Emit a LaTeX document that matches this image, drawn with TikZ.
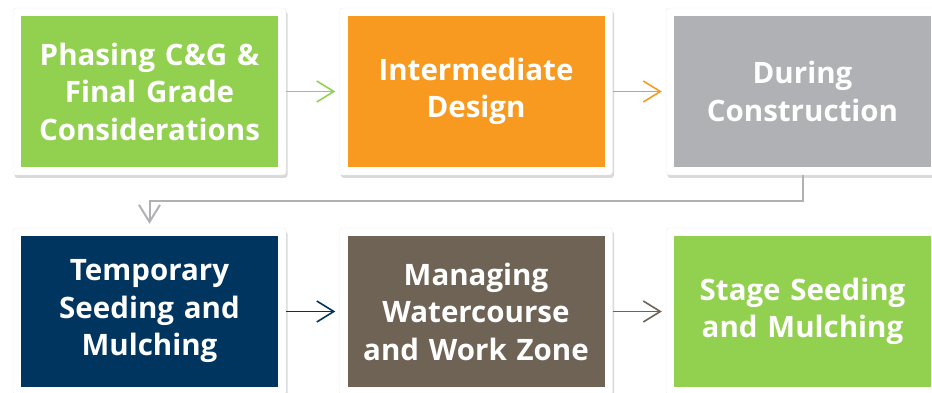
\documentclass[tikz,border=0pt]{standalone}
\usepackage{fontspec}
\setmainfont{Open Sans}
\usetikzlibrary{shadows,arrows.meta}
\definecolor{grassgreen}{HTML}{92D050}
\definecolor{amber}{HTML}{F89A1F}
\definecolor{steel}{HTML}{B0B1B5}
\definecolor{navy}{HTML}{003560}
\definecolor{soil}{HTML}{6E6355}
\tikzstyle{card} = [rectangle, fill=white, draw=black!7, rounded corners=3pt,
    minimum width=273pt, minimum height=167pt, inner sep=0pt,
    drop shadow={opacity=0.3, shadow xshift=1.5pt, shadow yshift=-3pt}]
\tikzstyle{tile} = [rectangle, minimum width=257pt, minimum height=151pt,
    text width=250pt, align=center, text=white, inner sep=0pt,
    font=\bfseries\fontsize{29.5}{37.5}\selectfont]
\tikzstyle{line} = [draw, line width=1.6pt, shorten >=4pt,
    -{Straight Barb[length=17pt,width=21pt]}]

\begin{document}
\begin{tikzpicture}[node distance = 326.5pt, auto]
    \useasboundingbox (0,0) rectangle (932pt,-393pt);
    % Place nodes
    \node [card] (C1) at (149.5pt,-91.5pt) {};
    \node [card, right of=C1] (C2) {};
    \node [card, right of=C2] (C3) {};
    \node [card, below of=C1, node distance=220pt] (C4) {};
    \node [card, right of=C4] (C5) {};
    \node [card, right of=C5] (C6) {};

    \node [tile, fill=grassgreen] (phasing) at (C1) {Phasing C\&G \&\\Final Grade\\Considerations};
    \node [tile, fill=amber] (design) at (C2) {Intermediate\\Design};
    \node [tile, fill=steel] (during) at (C3) {During\\Construction};
    \node [tile, fill=navy] (tempseed) at (C4) {Temporary\\Seeding and\\Mulching};
    \node [tile, fill=soil] (watercourse) at (C5) {Managing\\Watercourse\\and Work Zone};
    \node [tile, fill=grassgreen] (stageseed) at (C6) {Stage Seeding\\and Mulching};

    % Draw edges
    \path [line, grassgreen] (C1) -- (C2);
    \path [line, amber] (C2) -- (C3);
    \path [line, steel, line width=2pt] (C3.south) -- ++(0,-26pt) -| (C4.north);
    \path [line, navy] (C4) -- (C5);
    \path [line, soil] (C5) -- (C6);
\end{tikzpicture}
\end{document}
